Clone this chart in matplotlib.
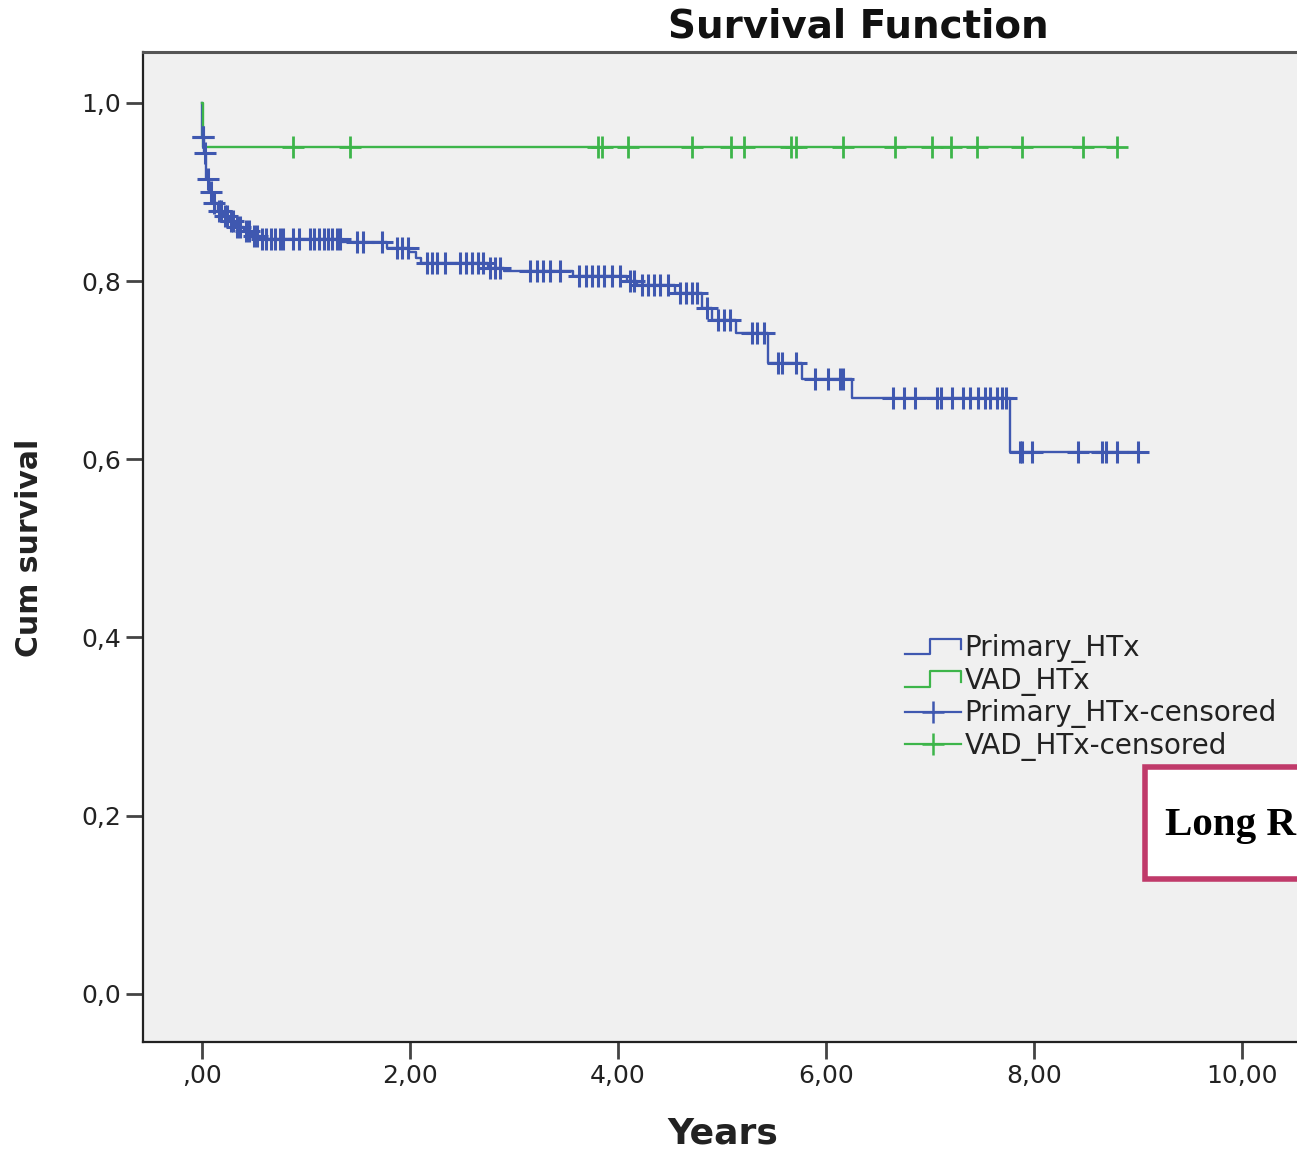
import numpy as np
import matplotlib
matplotlib.use("Agg")
import matplotlib.pyplot as plt
from matplotlib.lines import Line2D
from matplotlib.legend_handler import HandlerBase
from matplotlib.patches import Rectangle

# ---------------------------------------------------------
# DATA
# ---------------------------------------------------------

# Primary_HTx: event times (years) and survival after each step
primary_times = [0.0, 0.005, 0.02, 0.04, 0.07, 0.10, 0.15, 0.20, 0.26, 0.32,
                 0.40, 0.48, 0.56, 1.35, 1.78, 1.99, 2.06, 2.11, 2.75, 2.90,
                 3.57, 4.09, 4.18, 4.55, 4.81, 4.90, 5.13, 5.44, 5.77, 6.25,
                 7.77]
primary_surv = [1.0, 0.962, 0.944, 0.914, 0.900, 0.888, 0.879, 0.873, 0.867, 0.861,
                0.856, 0.851, 0.847, 0.844, 0.837, 0.832, 0.826, 0.820, 0.815, 0.811,
                0.806, 0.800, 0.795, 0.786, 0.770, 0.756, 0.742, 0.708, 0.690, 0.669,
                0.608]
primary_censored = [0.008, 0.012, 0.025, 0.06, 0.09, 0.12, 0.16, 0.18, 0.22, 0.24,
                    0.28, 0.30, 0.34, 0.37, 0.42, 0.45, 0.50, 0.53,
                    0.58, 0.62, 0.66, 0.70, 0.75, 0.78, 0.88, 0.93, 1.04, 1.08,
                    1.13, 1.17, 1.21, 1.25, 1.30, 1.33,
                    1.49, 1.55, 1.73, 1.875, 1.92, 1.98,
                    2.16, 2.21, 2.26, 2.34, 2.48, 2.54, 2.60, 2.65, 2.70,
                    2.77, 2.82, 2.87, 3.15, 3.22, 3.28, 3.35, 3.44,
                    3.63, 3.69, 3.75, 3.81, 3.87, 3.94, 4.02, 4.12, 4.15,
                    4.23, 4.29, 4.35, 4.40, 4.48, 4.60, 4.65, 4.71, 4.76,
                    4.86, 4.96, 5.02, 5.08, 5.29, 5.34, 5.40, 5.54, 5.58, 5.71,
                    5.89, 6.02, 6.13, 6.16,
                    6.64, 6.75, 6.86, 7.07, 7.11, 7.21, 7.32, 7.38, 7.46, 7.53,
                    7.58, 7.64, 7.69, 7.73,
                    7.87, 7.88, 7.98, 8.42, 8.65, 8.69, 8.80, 9.00]

# VAD_HTx
vad_times = [0.0, 0.01]
vad_surv = [1.0, 0.95]
vad_censored = [0.875, 1.42, 3.81, 3.85, 4.10, 4.71, 5.09, 5.21, 5.66, 5.71,
                6.16, 6.66, 7.02, 7.20, 7.45, 7.88, 8.47, 8.80]

x_ticks = [0, 2, 4, 6, 8, 10]
x_ticklabels = [",00", "2,00", "4,00", "6,00", "8,00", "10,00"]
y_ticks = [0.0, 0.2, 0.4, 0.6, 0.8, 1.0]
y_ticklabels = ["0,0", "0,2", "0,4", "0,6", "0,8", "1,0"]

BLUE = "#3F58B0"
GREEN = "#3DB54A"


def surv_at(times, steps_t, steps_s):
    idx = np.searchsorted(steps_t, times, side="right") - 1
    return np.asarray(steps_s)[idx]


# ---------------------------------------------------------
# FIGURE
# ---------------------------------------------------------

W, H = 1297, 1149
fig = plt.figure(figsize=(W / 100, H / 100), dpi=100)
fig.patch.set_facecolor("white")

ax_left, ax_right, ax_top, ax_bottom = 143, 1320, 52, 1042
ax = fig.add_axes([ax_left / W, 1 - ax_bottom / H,
                   (ax_right - ax_left) / W, (ax_bottom - ax_top) / H])
ax.set_facecolor("#F0F0F0")

ax.set_xlim(-0.567, 10.75)
ax.set_ylim(-0.054, 1.057)

for sp in ax.spines.values():
    sp.set_color("#222222")
    sp.set_linewidth(1.6)
ax.spines["top"].set_color("#555555")
ax.spines["top"].set_linewidth(2.2)

ax.set_xticks(x_ticks)
ax.set_xticklabels(x_ticklabels)
ax.set_yticks(y_ticks)
ax.set_yticklabels(y_ticklabels)
ax.tick_params(axis="both", direction="out", length=12, width=2,
               color="#444444", labelsize=18, labelcolor="#222222")
ax.tick_params(axis="x", pad=4)
ax.tick_params(axis="y", pad=4)

# ---------------------------------------------------------
# CURVES
# ---------------------------------------------------------

p_t = list(primary_times) + [max(primary_censored)]
p_s = list(primary_surv) + [primary_surv[-1]]
ax.step(p_t, p_s, where="post", color=BLUE, lw=1.7, zorder=3)

v_t = list(vad_times) + [max(vad_censored)]
v_s = list(vad_surv) + [vad_surv[-1]]
ax.step(v_t, v_s, where="post", color=GREEN, lw=1.7, zorder=4)

ax.plot(primary_censored, surv_at(primary_censored, primary_times, primary_surv),
        linestyle="none", marker="+", ms=16, mew=2.2, color=BLUE, zorder=5)
ax.plot(vad_censored, surv_at(vad_censored, vad_times, vad_surv),
        linestyle="none", marker="+", ms=16, mew=2.0, color=GREEN, zorder=6)

# ---------------------------------------------------------
# LEGEND
# ---------------------------------------------------------


class StepHandler(HandlerBase):
    def create_artists(self, legend, orig_handle, xdescent, ydescent,
                       width, height, fontsize, trans):
        x0 = -xdescent
        y0 = -ydescent
        xs = [x0, x0 + 0.45 * width, x0 + 0.45 * width, x0 + width, x0 + width]
        ys = [y0 + 0.1 * height, y0 + 0.1 * height, y0 + 0.9 * height,
              y0 + 0.9 * height, y0 + 0.35 * height]
        ln = Line2D(xs, ys, color=orig_handle.get_color(), lw=1.6,
                    transform=trans)
        return [ln]


h1 = Line2D([], [], color=BLUE)
h2 = Line2D([], [], color=GREEN)
h3 = Line2D([], [], color=BLUE, marker="+", ms=16, mew=1.8, lw=1.6)
h4 = Line2D([], [], color=GREEN, marker="+", ms=16, mew=1.8, lw=1.6)

leg = ax.legend([h1, h2, h3, h4],
                ["Primary_HTx", "VAD_HTx", "Primary_HTx-censored", "VAD_HTx-censored"],
                handler_map={h1: StepHandler(), h2: StepHandler()},
                loc="upper left", bbox_to_anchor=(905 / W, 1 - 634 / H),
                bbox_transform=fig.transFigure, frameon=False,
                fontsize=20, handlelength=2.0, handletextpad=0.15,
                labelspacing=0.13, borderpad=0, borderaxespad=0)
for t in leg.get_texts():
    t.set_color("#222222")

# ---------------------------------------------------------
# TEXTS
# ---------------------------------------------------------

fig.text(858 / W, 1 - 27 / H, "Survival Function", ha="center", va="center",
         fontsize=28, fontweight="bold", color="#111111")
fig.text(723 / W, 1 - 1133 / H, "Years", ha="center", va="center",
         fontsize=26, fontweight="bold", color="#222222")
fig.text(30 / W, 1 - 548 / H, "Cum survival", ha="center", va="center",
         rotation=90, fontsize=21.5, fontweight="bold", color="#222222")

# overlay box from slide
box = Rectangle((1145 / W, 1 - 879 / H), 200 / W, 112 / H,
                transform=fig.transFigure, facecolor="white",
                edgecolor="#C03A6A", lw=4, zorder=10)
fig.add_artist(box)
fig.text(1165 / W, 1 - 826 / H, "Long R", ha="left", va="center",
         fontsize=29.5, fontweight="bold", family="Liberation Serif",
         color="black", zorder=11)

fig.savefig("out.png", dpi=100)
